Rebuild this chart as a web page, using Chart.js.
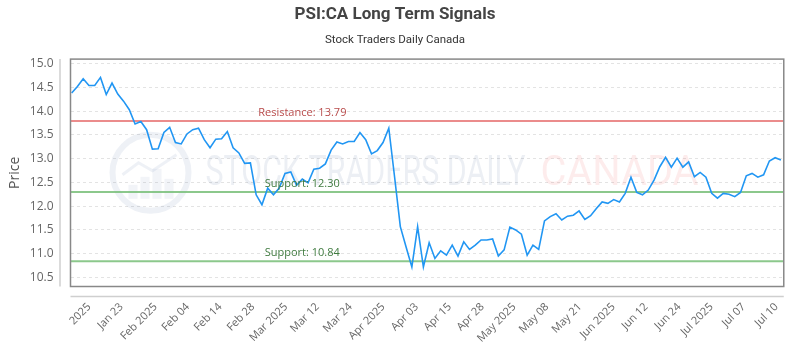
<!DOCTYPE html>
<html>
<head>
<meta charset="utf-8">
<title>PSI:CA Long Term Signals</title>
<script src="https://cdn.jsdelivr.net/npm/chart.js@4.4.1/dist/chart.umd.min.js"></script>
<style>
  html, body { margin: 0; padding: 0; background: #fff; }
  #wrap { width: 800px; height: 350px; }
</style>
</head>
<body>
<div id="wrap"><canvas id="signalChart" width="800" height="350"></canvas></div>
<script>
// PSI:CA daily closes, one per trading day
const prices = [
  14.38, 14.52, 14.68, 14.54, 14.54, 14.71, 14.35, 14.59, 14.36, 14.21,
  14.03, 13.73, 13.78, 13.61, 13.20, 13.21, 13.55, 13.66, 13.34, 13.31,
  13.52, 13.61, 13.64, 13.40, 13.23, 13.41, 13.42, 13.57, 13.23, 13.12,
  12.90, 12.91, 12.24, 12.03, 12.38, 12.24, 12.38, 12.69, 12.72, 12.44,
  12.57, 12.49, 12.78, 12.80, 12.89, 13.18, 13.35, 13.31, 13.36, 13.36,
  13.55, 13.40, 13.10, 13.17, 13.34, 13.64, 12.62, 11.57, 11.14, 10.72,
  11.57, 10.72, 11.23, 10.90, 11.06, 10.97, 11.18, 10.95, 11.25, 11.09,
  11.18, 11.29, 11.29, 11.31, 10.95, 11.08, 11.56, 11.50, 11.41, 10.97,
  11.18, 11.09, 11.69, 11.78, 11.84, 11.71, 11.79, 11.81, 11.90, 11.72,
  11.80, 11.95, 12.09, 12.06, 12.14, 12.09, 12.27, 12.61, 12.29, 12.24,
  12.34, 12.55, 12.83, 13.03, 12.82, 13.01, 12.82, 12.93, 12.62, 12.71,
  12.61, 12.27, 12.17, 12.27, 12.25, 12.20, 12.29, 12.64, 12.69, 12.61,
  12.66, 12.95, 13.02, 12.97
];

// signal levels
const resistanceLevels = [13.79];
const supportLevels = [12.30, 10.84];

// x axis labels and where (in trading-day index) they sit
const dateLabels = [
  '2025', 'Jan 23', 'Feb 2025', 'Feb 04', 'Feb 14', 'Feb 28', 'Mar 2025', 'Mar 12',
  'Mar 24', 'Apr 2025', 'Apr 03', 'Apr 15', 'Apr 28', 'May 2025', 'May 08', 'May 21',
  'Jun 2025', 'Jun 12', 'Jun 24', 'Jul 2025', 'Jul 07', 'Jul 10'
];
const dateTickAt = [
  3.05, 8.65, 14.55, 20.15, 25.75, 31.45, 37.15, 42.65, 48.35, 54.05, 59.85,
  65.55, 71.25, 76.75, 82.45, 88.15, 93.95, 99.65, 105.35, 110.95, 116.55, 122.25
];
const priceTicks = [10.5, 11.0, 11.5, 12.0, 12.5, 13.0, 13.5, 14.0, 14.5, 15.0];

const X_MIN = -0.2, X_MAX = 123.5;
const LABEL_AT = 40; // index where level captions are centred

function levelLine(value, color) {
    return {
        data: [{ x: X_MIN, y: value }, { x: X_MAX, y: value }],
        borderColor: color,
        borderWidth: 2,
        pointRadius: 0,
        order: 2
    };
}

// watermark, level captions, frame and the offset axis lines
const decorPlugin = {
    id: 'decor',
    beforeDatasetsDraw(chart) {
        const { ctx, chartArea: a } = chart;
        const cy = (a.top + a.bottom) / 2;
        ctx.save();
        // logo
        const lx = a.left + 80;
        ctx.strokeStyle = 'rgba(70,100,150,0.09)';
        ctx.fillStyle = 'rgba(70,100,150,0.07)';
        ctx.lineWidth = 6;
        ctx.beginPath();
        ctx.arc(lx, cy, 38, 0, Math.PI * 2);
        ctx.stroke();
        [[-22, 14], [-10, 22], [2, 30], [14, 20]].forEach(([dx, h]) => {
            ctx.fillRect(lx + dx, cy + 26 - h, 9, h);
        });
        ctx.lineWidth = 3;
        ctx.beginPath();
        ctx.moveTo(lx - 28, cy + 2);
        ctx.lineTo(lx - 12, cy - 10);
        ctx.lineTo(lx + 2, cy - 2);
        ctx.lineTo(lx + 26, cy - 18);
        ctx.stroke();
        // text
        ctx.textBaseline = 'middle';
        ctx.textAlign = 'left';
        ctx.font = '42px Roboto';
        const drawFit = (txt, x, w, color) => {
            const m = ctx.measureText(txt).width;
            ctx.save();
            ctx.translate(x, cy + 2);
            ctx.scale(w / m, 1);
            ctx.fillStyle = color;
            ctx.fillText(txt, 0, 0);
            ctx.restore();
        };
        drawFit('STOCK TRADERS DAILY', a.left + 135, 320, 'rgba(70,100,150,0.10)');
        drawFit('CANADA', a.left + 470, 158, 'rgba(235,80,80,0.11)');
        ctx.restore();
    },
    afterDatasetsDraw(chart) {
        const { ctx, scales: { x, y } } = chart;
        ctx.save();
        ctx.font = '11px "Open Sans"';
        ctx.textAlign = 'center';
        ctx.textBaseline = 'middle';
        const cx = x.getPixelForValue(LABEL_AT);
        resistanceLevels.forEach(v => {
            ctx.fillStyle = '#b84a4a';
            ctx.fillText('Resistance: ' + v.toFixed(2), cx, y.getPixelForValue(v) - 8.5);
        });
        supportLevels.forEach(v => {
            ctx.fillStyle = '#3f7a3f';
            ctx.fillText('Support: ' + v.toFixed(2), cx, y.getPixelForValue(v) - 8.5);
        });
        ctx.restore();
    },
    afterDraw(chart) {
        const { ctx, chartArea: a } = chart;
        ctx.save();
        ctx.strokeStyle = '#cfcfcf';
        ctx.lineWidth = 1.5;
        ctx.beginPath();
        ctx.moveTo(a.left - 10.5, a.top);
        ctx.lineTo(a.left - 10.5, a.bottom);
        ctx.moveTo(a.left, a.bottom + 10);
        ctx.lineTo(a.right, a.bottom + 10);
        ctx.stroke();
        ctx.strokeStyle = '#888';
        ctx.lineWidth = 1.5;
        ctx.strokeRect(a.left, a.top, a.right - a.left, a.bottom - a.top);
        ctx.restore();
    }
};

const datasets = [{
    label: 'PSI:CA',
    data: prices.map((p, i) => ({ x: i, y: p })),
    borderColor: '#2196F3',
    borderWidth: 1.6,
    pointRadius: 0,
    tension: 0,
    order: 1
}];
resistanceLevels.forEach(v => datasets.push(levelLine(v, 'rgba(232,120,120,0.85)')));
supportLevels.forEach(v => datasets.push(levelLine(v, 'rgba(120,190,120,0.85)')));

new Chart(document.getElementById('signalChart'), {
    type: 'line',
    data: { datasets: datasets },
    options: {
        responsive: false,
        animation: false,
        devicePixelRatio: 1,
        layout: { padding: { left: 0, right: 10, top: 0, bottom: 0 } },
        plugins: {
            legend: { display: false },
            tooltip: { enabled: false },
            title: {
                display: true,
                text: 'PSI:CA Long Term Signals',
                color: '#444',
                font: { family: 'Roboto', size: 17, weight: 'bold' },
                padding: { top: 4.8, bottom: 4 }
            },
            subtitle: {
                display: true,
                text: 'Stock Traders Daily Canada',
                color: '#333',
                font: { family: 'Roboto', size: 11.5 },
                padding: { top: 3.6, bottom: 12.5 }
            }
        },
        scales: {
            x: {
                type: 'linear',
                min: X_MIN,
                max: X_MAX,
                grid: { display: false, drawTicks: false },
                border: { display: false },
                afterBuildTicks: s => { s.ticks = dateTickAt.map(v => ({ value: v })); },
                afterFit: s => { s.height = 63.5; },
                ticks: {
                    autoSkip: false,
                    minRotation: 45,
                    maxRotation: 45,
                    padding: 14,
                    color: '#666',
                    font: { family: '"Open Sans"', size: 11 },
                    callback: (v, i) => dateLabels[i]
                }
            },
            y: {
                min: 10.31,
                max: 15.095,
                afterBuildTicks: s => { s.ticks = priceTicks.map(v => ({ value: v })); },
                afterFit: s => { s.width = 70.5; },
                grid: { color: '#e3e3e3', drawTicks: false },
                border: { display: false, dash: [3, 3] },
                title: {
                    display: true,
                    text: 'Price',
                    color: '#555',
                    font: { family: '"Open Sans"', size: 14 },
                    padding: { top: 7, bottom: 0 }
                },
                ticks: {
                    padding: 17,
                    color: '#666',
                    font: { family: '"Open Sans"', size: 12 },
                    callback: v => v.toFixed(1)
                }
            }
        }
    },
    plugins: [decorPlugin]
});
</script>
</body>
</html>
